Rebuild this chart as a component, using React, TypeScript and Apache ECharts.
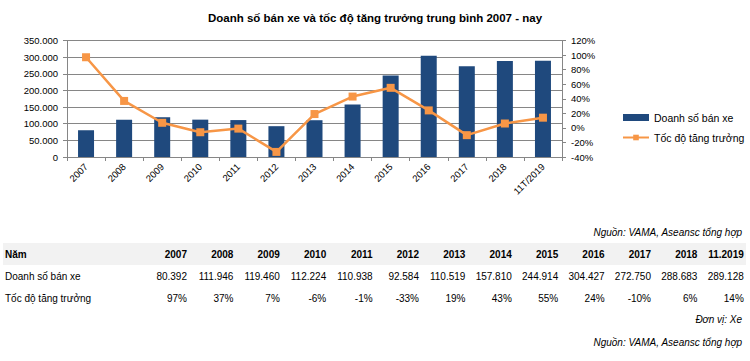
import React, { useEffect, useRef } from "react";
import * as echarts from "echarts";

const categories = ["2007","2008","2009","2010","2011","2012","2013","2014","2015","2016","2017","2018","11T/2019"];
const sales = [80392,111946,119460,112224,110938,92584,110519,157810,244914,304427,272750,288683,289128];
const growth = [97,37,7,-6,-1,-33,19,43,55,24,-10,6,14];
const tableYears = ["2007","2008","2009","2010","2011","2012","2013","2014","2015","2016","2017","2018","11.2019"];
const salesLabels = ["80.392","111.946","119.460","112.224","110.938","92.584","110.519","157.810","244.914","304.427","272.750","288.683","289.128"];
const growthLabels = ["97%","37%","7%","-6%","-1%","-33%","19%","43%","55%","24%","-10%","6%","14%"];

const FONT = "Liberation Sans, Arial, sans-serif";

function fmtThousands(v: number): string {
  return String(v).replace(/\B(?=(\d{3})+(?!\d))/g, ".");
}

export default function App() {
  const ref = useRef<HTMLDivElement>(null);
  useEffect(() => {
    if (!ref.current) return;
    const chart = echarts.init(ref.current, undefined, { renderer: "svg" });
    const graphics: any[] = [];
    graphics.push({
      type: "text", x: 375, y: 18,
      style: { text: "Doanh số bán xe và tốc độ tăng trưởng trung bình 2007 - nay", font: `bold 11.5px ${FONT}`, fill: "#000", textAlign: "center", textVerticalAlign: "middle" },
    });
    graphics.push({ type: "rect", shape: { x: 3, y: 243, width: 743, height: 22 }, style: { fill: "#F2F2F2" }, z: 0 });
    const rowY = [254, 276, 298];
    const rowNames = ["Năm", "Doanh số bán xe", "Tốc độ tăng trưởng"];
    rowNames.forEach((n, i) => {
      graphics.push({
        type: "text", x: 5, y: rowY[i],
        style: { text: n, font: `${i === 0 ? "bold " : ""}10px ${FONT}`, fill: "#000", textAlign: "left", textVerticalAlign: "middle" }, z: 2,
      });
    });
    const colRight0 = 187;
    const colStep = 46.4;
    tableYears.forEach((y, j) => {
      const x = colRight0 + j * colStep;
      [y, salesLabels[j], growthLabels[j]].forEach((t, i) => {
        graphics.push({
          type: "text", x, y: rowY[i],
          style: { text: t, font: `${i === 0 ? "bold " : ""}10px ${FONT}`, fill: "#000", textAlign: "right", textVerticalAlign: "middle" }, z: 2,
        });
      });
    });
    const notes: [string, number][] = [["Nguồn: VAMA, Aseansc tổng hợp", 232], ["Đơn vị: Xe", 319], ["Nguồn: VAMA, Aseansc tổng hợp", 342]];
    notes.forEach(([t, y]) => {
      graphics.push({
        type: "text", x: 742, y,
        style: { text: t, font: `italic 10px ${FONT}`, fill: "#000", textAlign: "right", textVerticalAlign: "middle" }, z: 2,
      });
    });

    chart.setOption({
      animation: false,
      textStyle: { fontFamily: FONT },
      grid: { left: 67, right: 188, top: 40.5, bottom: 204 },
      legend: {
        orient: "vertical", left: 617, top: 107, itemGap: 9,
        itemWidth: 26, itemHeight: 7,
        textStyle: { fontSize: 10.5, color: "#000", fontFamily: FONT },
        data: [
          { name: "Doanh số bán xe", icon: "rect" },
          { name: "Tốc độ tăng trưởng" },
        ],
      },
      xAxis: {
        type: "category", data: categories,
        axisLine: { lineStyle: { color: "#868686" } },
        axisTick: { show: true, length: 4, lineStyle: { color: "#868686" } },
        axisLabel: { rotate: 45, fontSize: 9.5, color: "#000", margin: 8, interval: 0 },
      },
      yAxis: [
        {
          type: "value", min: 0, max: 350000, interval: 50000,
          axisLine: { show: true, lineStyle: { color: "#868686" } },
          axisTick: { show: true, length: 4, lineStyle: { color: "#868686" } },
          axisLabel: { fontSize: 9.5, color: "#000", margin: 9, formatter: (v: number) => fmtThousands(v) },
          splitLine: { lineStyle: { color: "#868686" } },
        },
        {
          type: "value", min: -40, max: 120, interval: 20,
          axisLine: { show: true, lineStyle: { color: "#868686" } },
          axisTick: { show: true, length: 4, lineStyle: { color: "#868686" } },
          axisLabel: { fontSize: 9.5, color: "#000", margin: 9, formatter: (v: number) => `${v}%` },
          splitLine: { show: false },
        },
      ],
      series: [
        {
          name: "Doanh số bán xe", type: "bar", data: sales, yAxisIndex: 0,
          barWidth: 16,
          itemStyle: { color: "#1F497D" },
        },
        {
          name: "Tốc độ tăng trưởng", type: "line", data: growth, yAxisIndex: 1,
          symbol: "rect", symbolSize: 8,
          lineStyle: { color: "#F79646", width: 2.5 },
          itemStyle: { color: "#F79646" },
        },
      ],
      graphic: graphics,
    });
    return () => chart.dispose();
  }, []);
  return <div ref={ref} style={{ position: "fixed", left: 0, top: 0, width: 750, height: 361, background: "#fff" }} />;
}
